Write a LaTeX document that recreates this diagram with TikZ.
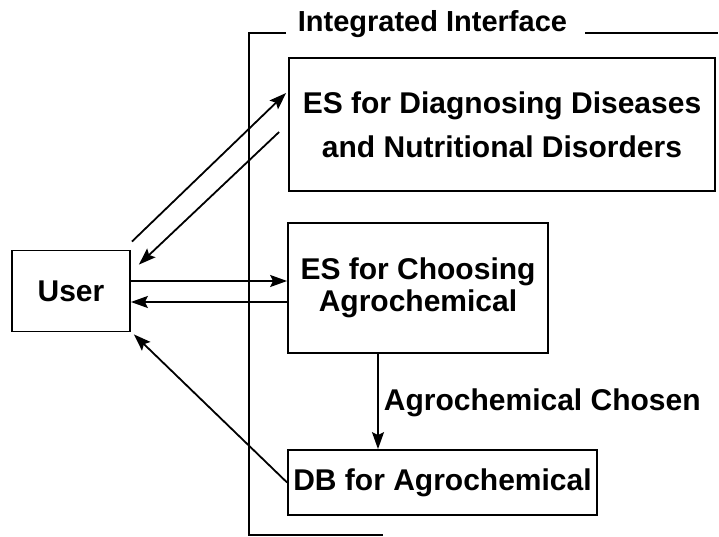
\documentclass[tikz,border=0pt]{standalone}
\usepackage{fontspec}
\setmainfont{Liberation Sans}
\usetikzlibrary{arrows.meta,calc}

\begin{document}
\begin{tikzpicture}[x=1pt,y=-1pt,
  line width=1.8pt,
  box/.style={draw,inner sep=0pt,align=center,font=\bfseries\fontsize{30}{32}\selectfont},
  arr/.style={-{Stealth[length=17pt,width=12pt,inset=3pt]}},
  tag/.style={inner sep=0pt,font=\bfseries\fontsize{30}{32}\selectfont},
  frame/.style={line width=1.6pt}]
\useasboundingbox (0,0) rectangle (719,537);

% components
\node[box,minimum width=118pt,minimum height=81pt] (user) at (71,291) {User};
\node[box,minimum width=426pt,minimum height=133pt,
      font=\bfseries\fontsize{30}{44}\selectfont] (diag) at (502,124.5)
      {ES for Diagnosing Diseases\\and Nutritional Disorders};
\node[box,minimum width=260pt,minimum height=130pt] (choose) at (418,288)
      {ES for Choosing\\Agrochemical};
\node[box,minimum width=309pt,minimum height=65pt] (db) at (442.5,482.5)
      {DB for Agrochemical};

% partial frame of the integrated interface
\node[tag,anchor=base west,font=\bfseries\fontsize{29}{32}\selectfont] (title) at (297,32)
      {Integrated Interface};
\draw[frame] (286,33) -- (249,33) -- (249,535) -- (383,535);
\draw[frame] (585,33) -- (718,33);

% user <-> diagnosing expert system
\draw[arr] ($(user.north east)+(1,-8)$) -- ($(diag.west)+(-2,-31.5)$);
\draw[arr] ($(diag.west)+(-9,7.5)$) -- ($(user.north east)+(8,15)$);

% user <-> choosing expert system
\draw[arr] ([yshift=10pt]user.east) -- ([yshift=10pt]user.east -| choose.west);
\draw[arr] ([yshift=-11pt]user.east -| choose.west) -- ([yshift=-11pt]user.east);

% choosing -> database
\draw[arr] ([xshift=-40pt]choose.south) -- ([xshift=-40pt]choose.south |- db.north);
\node[tag,anchor=base west] (chosen) at (383,410) {Agrochemical Chosen};

% database -> user
\draw[arr] (db.west) -- ($(user.south east)+(3,2)$);
\end{tikzpicture}
\end{document}
